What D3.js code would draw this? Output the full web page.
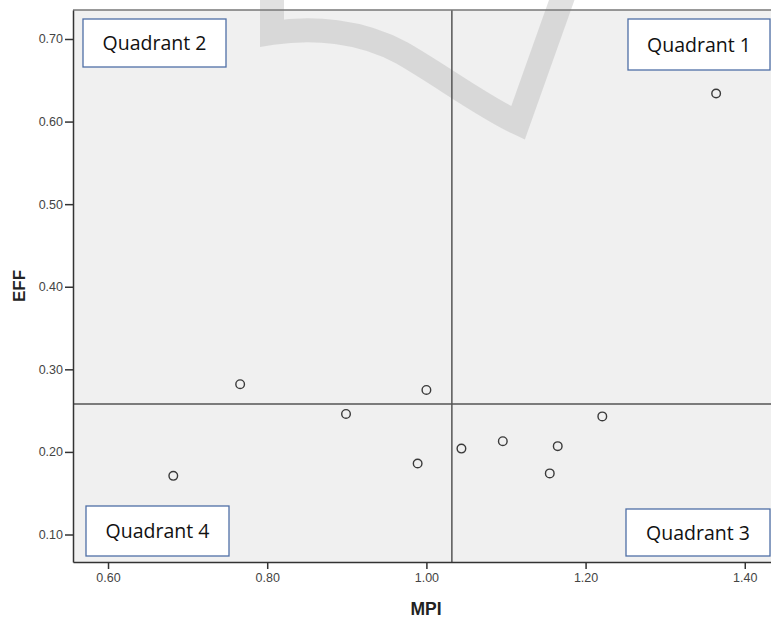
<!DOCTYPE html>
<html><head><meta charset="utf-8">
<script src="https://cdn.jsdelivr.net/npm/d3@7"></script>
<style>html,body{margin:0;padding:0;background:#fff;overflow:hidden}</style>
</head><body>
<svg id="chart" width="771" height="620"></svg>
<script>
// ---- data ----
const mpi = [0.682, 0.766, 0.899, 0.989, 1.000, 1.044, 1.096, 1.155, 1.165, 1.221, 1.364];
const eff = [0.171, 0.282, 0.246, 0.186, 0.275, 0.204, 0.213, 0.174, 0.207, 0.243, 0.634];
const refMPI = [1.032];
const refEFF = [0.258];
const xTicks = [0.6, 0.8, 1.0, 1.2, 1.4];
const yTicks = [0.1, 0.2, 0.3, 0.4, 0.5, 0.6, 0.7];
const quadrantLabels = ["Quadrant 1", "Quadrant 2", "Quadrant 3", "Quadrant 4"];
const xTitle = "MPI", yTitle = "EFF";

// ---- layout ----
const L = 73, R = 779, T = 10, B = 562;
const svg = d3.select("#chart");
const x = d3.scaleLinear().domain([0.556, 1.443]).range([L, R]);
const y = d3.scaleLinear().domain([0.0667, 0.7351]).range([B, T]);

svg.append("rect").attr("x", L).attr("y", T).attr("width", R - L).attr("height", B - T).attr("fill", "#f0f0f0");

// watermark (decorative)
svg.append("path")
  .attr("d", "M 272,-12 L 272,33 C 312,27 360,30 402,53 C 442,76 482,106 518,123 L 566,-12")
  .attr("fill", "none").attr("stroke", "#b8b8b8").attr("stroke-opacity", 0.42)
  .attr("stroke-width", 24).attr("stroke-linejoin", "miter");

// reference lines
svg.append("line").attr("x1", x(refMPI[0])).attr("x2", x(refMPI[0])).attr("y1", T).attr("y2", B)
  .attr("stroke", "#555").attr("stroke-width", 1.5);
svg.append("line").attr("x1", L).attr("x2", R).attr("y1", y(refEFF[0])).attr("y2", y(refEFF[0]))
  .attr("stroke", "#555").attr("stroke-width", 1.5);

// top border
svg.append("line").attr("x1", L).attr("x2", R).attr("y1", T).attr("y2", T).attr("stroke", "#777").attr("stroke-width", 1.5);

// axes
const xAxis = svg.append("g").attr("transform", `translate(0,${B})`)
  .call(d3.axisBottom(x).tickValues(xTicks).tickFormat(d3.format(".2f")).tickSize(7).tickPadding(4).tickSizeOuter(0));
const yAxis = svg.append("g").attr("transform", `translate(${L},0)`)
  .call(d3.axisLeft(y).tickValues(yTicks).tickFormat(d3.format(".2f")).tickSize(8).tickPadding(2).tickSizeOuter(0));
[xAxis, yAxis].forEach(g => {
  g.select(".domain").attr("stroke", "#333").attr("stroke-width", 1.5);
  g.selectAll(".tick line").attr("stroke", "#333").attr("stroke-width", 1.5);
  g.selectAll("text").attr("fill", "#444").attr("font-family", "Liberation Sans, Arial, sans-serif").attr("font-size", 12.5);
});

// axis titles
svg.append("text").attr("x", (L + R) / 2).attr("y", 615).attr("text-anchor", "middle")
  .attr("font-family", "Liberation Sans, Arial, sans-serif").attr("font-weight", "bold").attr("font-size", 17.5)
  .attr("fill", "#222").text(xTitle);
svg.append("text").attr("transform", `translate(25,${(T + B) / 2}) rotate(-90)`).attr("text-anchor", "middle")
  .attr("font-family", "Liberation Sans, Arial, sans-serif").attr("font-weight", "bold").attr("font-size", 17)
  .attr("fill", "#222").text(yTitle);

// points
svg.append("g").selectAll("circle").data(mpi.map((m, i) => [m, eff[i]])).join("circle")
  .attr("cx", d => x(d[0])).attr("cy", d => y(d[1])).attr("r", 4.3)
  .attr("fill", "none").attr("stroke", "#3a3a3a").attr("stroke-width", 1.4);

// quadrant label boxes
const boxes = [
  {label: quadrantLabels[1], x0: L + 10, y0: T + 9, w: 143, h: 48},
  {label: quadrantLabels[0], x0: 628, y0: T + 9, w: 142, h: 51},
  {label: quadrantLabels[3], x0: L + 13, y0: B - 56, w: 143, h: 50},
  {label: quadrantLabels[2], x0: 626, y0: B - 53, w: 144, h: 47}
];
const bg = svg.append("g").selectAll("g").data(boxes).join("g");
bg.append("rect").attr("x", d => d.x0).attr("y", d => d.y0).attr("width", d => d.w).attr("height", d => d.h)
  .attr("fill", "#fff").attr("stroke", "#4f6fa6").attr("stroke-width", 1.3);
bg.append("text").attr("x", d => d.x0 + d.w / 2).attr("y", d => d.y0 + d.h / 2 + 7)
  .attr("text-anchor", "middle").attr("font-family", "Open Sans, sans-serif").attr("font-size", 19.5)
  .attr("fill", "#111").text(d => d.label);
</script>
</body></html>
